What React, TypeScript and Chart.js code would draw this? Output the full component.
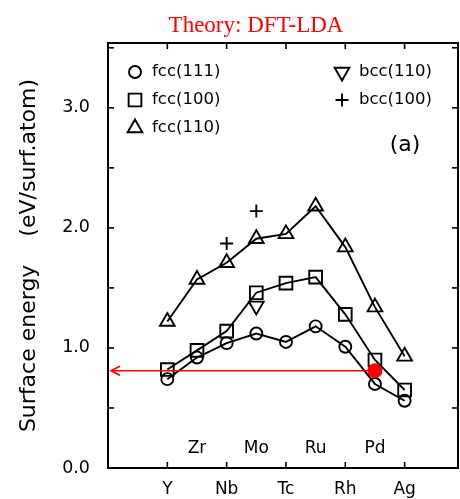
import React, { useEffect, useRef } from 'react';
import { Chart, registerables } from 'chart.js';
import { drawPoint } from 'chart.js/helpers';

Chart.register(...registerables);

// ---- data ----
const elements = ['Y', 'Zr', 'Nb', 'Mo', 'Tc', 'Ru', 'Rh', 'Pd', 'Ag'];
const bottomLabels = ['Y', 'Nb', 'Tc', 'Rh', 'Ag'];
const fcc111 = [0.74, 0.92, 1.04, 1.12, 1.05, 1.18, 1.01, 0.70, 0.56];
const fcc100 = [0.82, 0.98, 1.14, 1.46, 1.54, 1.59, 1.28, 0.90, 0.65];
const fcc110 = [1.22, 1.57, 1.71, 1.91, 1.95, 2.18, 1.84, 1.34, 0.93];
const bcc110 = [null, null, null, 1.35, null, null, null, null, null];
const bcc100 = [null, null, 1.87, 2.14, null, null, null, null, null];
const yTickValues = [0, 1, 2, 3];
const yMinorStep = 0.5;
const markedElement = 'Pd';
const markedValue = 0.81;
const titleText = 'Theory: DFT-LDA';
const yTitle = 'Surface energy    (eV/surf.atom)';
const panelLabel = '(a)';

const FONT = '"DejaVu Sans", sans-serif';

const toXY = (arr: (number | null)[]) =>
  arr
    .map((v, i) => (v == null ? null : { x: i, y: v }))
    .filter((p) => p !== null) as { x: number; y: number }[];

const series = [
  { label: 'fcc(111)', data: fcc111, style: 'circle', radius: 6, rotation: 0, line: true },
  { label: 'fcc(100)', data: fcc100, style: 'rect', radius: 9, rotation: 0, line: true },
  { label: 'fcc(110)', data: fcc110, style: 'triangle', radius: 8.5, rotation: 0, line: true },
  { label: 'bcc(110)', data: bcc110, style: 'triangle', radius: 8.5, rotation: 180, line: false },
  { label: 'bcc(100)', data: bcc100, style: 'cross', radius: 6.5, rotation: 0, line: false },
];

const legendLayout = [
  { col: 0, row: 0 },
  { col: 0, row: 1 },
  { col: 0, row: 2 },
  { col: 1, row: 0 },
  { col: 1, row: 1 },
];

const decorPlugin = {
  id: 'decor',
  beforeDatasetsDraw(chart: any) {
    const { ctx, chartArea: a, scales } = chart;
    const x = scales.x;
    const y = scales.y;
    ctx.save();
    ctx.strokeStyle = '#000';
    ctx.lineWidth = 2;
    ctx.strokeRect(a.left, a.top, a.right - a.left, a.bottom - a.top);
    ctx.lineWidth = 1.6;
    const seg = (x1: number, y1: number, x2: number, y2: number) => {
      ctx.beginPath();
      ctx.moveTo(x1, y1);
      ctx.lineTo(x2, y2);
      ctx.stroke();
    };
    for (let v = yMinorStep; v < y.max - 0.01; v += yMinorStep) {
      const py = y.getPixelForValue(v);
      seg(a.left, py, a.left + 6, py);
      seg(a.right, py, a.right - 6, py);
    }
    bottomLabels.forEach((l) => {
      const px = x.getPixelForValue(elements.indexOf(l));
      seg(px, a.bottom, px, a.bottom - 6);
      seg(px, a.top, px, a.top + 6);
    });
    // inner element labels
    ctx.fillStyle = '#000';
    ctx.font = `17px ${FONT}`;
    ctx.textAlign = 'center';
    ctx.textBaseline = 'middle';
    elements.forEach((e, i) => {
      if (!bottomLabels.includes(e)) ctx.fillText(e, x.getPixelForValue(i), a.bottom - 19);
    });
    // title
    ctx.fillStyle = '#ff0000';
    ctx.font = '23px "Liberation Serif", serif';
    ctx.textBaseline = 'alphabetic';
    ctx.fillText(titleText, 256, 32);
    // legend
    ctx.fillStyle = '#000';
    ctx.font = `16.5px ${FONT}`;
    ctx.textAlign = 'left';
    ctx.textBaseline = 'middle';
    series.forEach((s, i) => {
      const pos = legendLayout[i];
      const mx = a.left + (pos.col === 0 ? 27 : 234);
      const my = a.top + 29 + pos.row * 28;
      ctx.save();
      ctx.strokeStyle = '#000';
      ctx.fillStyle = 'rgba(0,0,0,0)';
      ctx.lineWidth = 1.9;
      drawPoint(ctx, { pointStyle: s.style, radius: s.radius, rotation: s.rotation, borderWidth: 1.9 } as any, mx, my);
      ctx.restore();
      ctx.fillText(s.label, mx + 17, my);
    });
    ctx.font = `22px ${FONT}`;
    ctx.textAlign = 'center';
    ctx.fillText(panelLabel, a.right - 53, a.top + 102);
    ctx.restore();
  },
  afterDatasetsDraw(chart: any) {
    const { ctx, chartArea: a, scales } = chart;
    const px = scales.x.getPixelForValue(elements.indexOf(markedElement));
    const py = scales.y.getPixelForValue(markedValue);
    const tip = a.left + 3;
    ctx.save();
    ctx.strokeStyle = '#ff0000';
    ctx.lineWidth = 1.6;
    ctx.beginPath();
    ctx.moveTo(px, py);
    ctx.lineTo(tip, py);
    ctx.moveTo(tip + 9, py - 4.5);
    ctx.lineTo(tip, py);
    ctx.lineTo(tip + 9, py + 4.5);
    ctx.stroke();
    ctx.fillStyle = '#ff0000';
    ctx.beginPath();
    ctx.arc(px, py, 7.5, 0, Math.PI * 2);
    ctx.fill();
    ctx.restore();
  },
};

export default function App() {
  const ref = useRef<HTMLCanvasElement | null>(null);
  useEffect(() => {
    if (!ref.current) return;
    const datasets: any[] = series.map((s) => ({
      label: s.label,
      data: toXY(s.data),
      showLine: s.line,
      borderColor: '#000',
      backgroundColor: 'rgba(0,0,0,0)',
      borderWidth: 1.9,
      pointStyle: s.style,
      pointRadius: s.radius,
      pointRotation: s.rotation,
      pointBorderWidth: 1.9,
      pointBorderColor: '#000',
      pointBackgroundColor: 'rgba(0,0,0,0)',
      tension: 0,
    }));
    const chart = new Chart(ref.current, {
      type: 'line',
      data: { datasets },
      plugins: [decorPlugin],
      options: {
        animation: false,
        responsive: false,
        devicePixelRatio: 1,
        layout: { autoPadding: false, padding: { top: 43, right: 2, left: 0, bottom: 0 } },
        plugins: { legend: { display: false }, tooltip: { enabled: false }, title: { display: false } },
        scales: {
          x: {
            type: 'linear',
            min: -2,
            max: 9.8,
            grid: { display: false, drawTicks: false },
            border: { display: false },
            afterBuildTicks: (scale: any) => {
              scale.ticks = bottomLabels.map((l) => ({ value: elements.indexOf(l) }));
            },
            afterFit: (scale: any) => {
              scale.height = 31;
              scale.paddingLeft = 0;
              scale.paddingRight = 0;
            },
            ticks: {
              autoSkip: false,
              maxRotation: 0,
              padding: 11,
              color: '#000',
              font: { family: FONT, size: 17 },
              callback: (v: any) => elements[Math.round(Number(v))] ?? '',
            },
          },
          y: {
            type: 'linear',
            min: 0,
            max: 3.54,
            grid: { display: false, drawTicks: false },
            border: { display: false },
            afterBuildTicks: (scale: any) => {
              scale.ticks = yTickValues.map((v) => ({ value: v }));
            },
            afterFit: (scale: any) => {
              scale.width = 108;
              scale.paddingTop = 0;
              scale.paddingBottom = 0;
            },
            ticks: {
              padding: 18,
              color: '#000',
              font: { family: FONT, size: 17.5 },
              callback: (v: any) => Number(v).toFixed(1),
            },
            title: {
              display: true,
              text: yTitle,
              color: '#000',
              font: { family: FONT, size: 22 },
              padding: { top: 16, bottom: 0 },
            },
          },
        },
      },
    });
    return () => chart.destroy();
  }, []);
  return (
    <div style={{ position: 'absolute', left: 0, top: 0, width: 460, height: 499, background: '#fff' }}>
      <canvas ref={ref} width={460} height={499} style={{ display: 'block' }} />
    </div>
  );
}
